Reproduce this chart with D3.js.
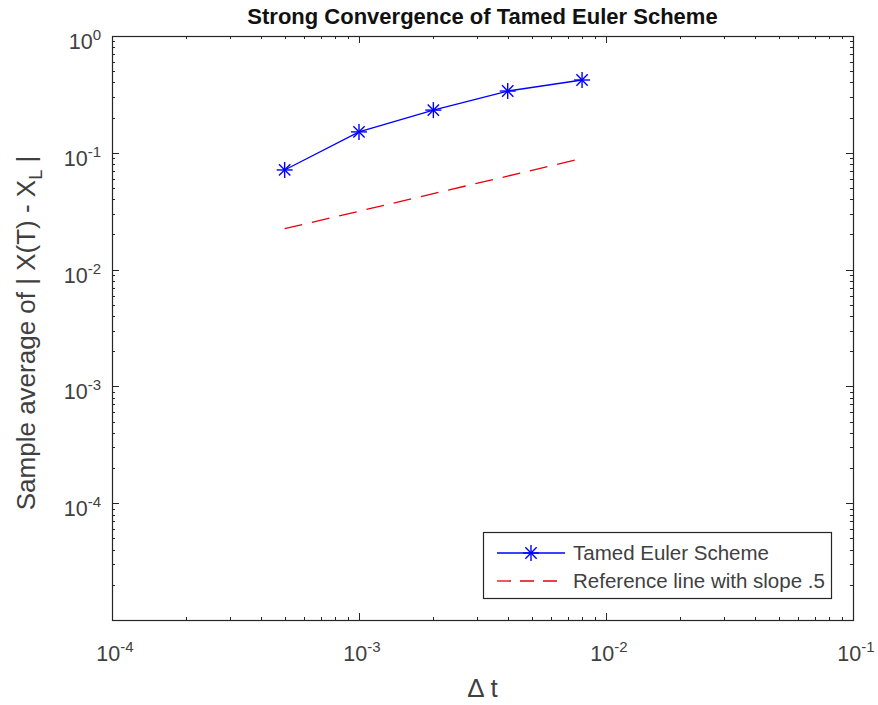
<!DOCTYPE html>
<html>
<head>
<meta charset="utf-8">
<script src="https://cdn.jsdelivr.net/npm/d3@7"></script>
<style>
  body { margin: 0; background: #fff; }
  text { font-family: "Liberation Sans", Arial, sans-serif; }
</style>
</head>
<body>
<svg id="chart" width="878" height="705"></svg>
<script>
// step sizes and measured errors
var dts = [5e-4, 1e-3, 2e-3, 4e-3, 8e-3];
var tamedErr = [0.0713, 0.151, 0.232, 0.338, 0.420];
var refErr = [0.0224, 0.0316, 0.0447, 0.0632, 0.0894];

var xDecades = [-4, -3, -2, -1];
var yDecades = [0, -1, -2, -3, -4];

var legendNames = ["Tamed Euler Scheme", "Reference line with slope .5"];

var W = 878, H = 705;
var pLeft = 112, pRight = 853, pTop = 36, pBottom = 620;

var svg = d3.select("#chart");
svg.append("rect").attr("width", W).attr("height", H).attr("fill", "#fff");

var x = d3.scaleLog().domain([1e-4, 1e-1]).range([pLeft, pRight]);
var y = d3.scaleLog().domain([1e-5, 1e0]).range([pBottom, pTop]);

var axisCol = "#262626";

// ticks (inward, on all sides)
function minorTicks(lo, hi) {
  var out = [];
  for (var e = lo; e < hi; e++)
    for (var m = 2; m <= 9; m++) out.push(m * Math.pow(10, e));
  return out;
}
var xMinor = minorTicks(-4, -1), yMinor = minorTicks(-5, 0);
var xMajor = d3.range(-4, 0).map(function (e) { return Math.pow(10, e); });
var yMajor = d3.range(-5, 1).map(function (e) { return Math.pow(10, e); });

var g = svg.append("g").attr("stroke", axisCol).attr("stroke-width", 1);
function tickX(vals, len) {
  vals.forEach(function (v) {
    var px = Math.round(x(v)) + 0.5;
    g.append("line").attr("x1", px).attr("x2", px).attr("y1", pBottom).attr("y2", pBottom - len);
    g.append("line").attr("x1", px).attr("x2", px).attr("y1", pTop).attr("y2", pTop + len);
  });
}
function tickY(vals, len) {
  vals.forEach(function (v) {
    var py = Math.round(y(v)) + 0.5;
    g.append("line").attr("y1", py).attr("y2", py).attr("x1", pLeft).attr("x2", pLeft + len);
    g.append("line").attr("y1", py).attr("y2", py).attr("x1", pRight).attr("x2", pRight - len);
  });
}
tickX(xMinor, 3); tickX(xMajor, 7);
tickY(yMinor, 3); tickY(yMajor, 7);

svg.append("rect")
  .attr("x", pLeft + 0.5).attr("y", pTop + 0.5)
  .attr("width", pRight - pLeft).attr("height", pBottom - pTop)
  .attr("fill", "none").attr("stroke", axisCol).attr("stroke-width", 1.2);

// tick labels
function powLabel(sel, e) {
  sel.append("tspan").text("10");
  sel.append("tspan").attr("dy", -9).attr("font-size", 15).text(e);
}
xDecades.forEach(function (e) {
  var t = svg.append("text")
    .attr("x", x(Math.pow(10, e)) + 3).attr("y", 661)
    .attr("text-anchor", "middle").attr("font-size", 21.5).attr("fill", "#404040");
  powLabel(t, e);
});
yDecades.forEach(function (e) {
  var t = svg.append("text")
    .attr("x", 101).attr("y", y(Math.pow(10, e)) + 13)
    .attr("text-anchor", "end").attr("font-size", 21.5).attr("fill", "#404040");
  powLabel(t, e);
});

// title and axis labels
svg.append("text").attr("x", (pLeft + pRight) / 2).attr("y", 24)
  .attr("text-anchor", "middle").attr("font-size", 22).attr("font-weight", "bold")
  .attr("fill", "#111").text("Strong Convergence of Tamed Euler Scheme");

svg.append("text").attr("x", (pLeft + pRight) / 2).attr("y", 697)
  .attr("text-anchor", "middle").attr("font-size", 26).attr("fill", "#404040")
  .text("\u0394 t");

var yl = svg.append("text")
  .attr("transform", "translate(35,333) rotate(-90)")
  .attr("text-anchor", "middle").attr("font-size", 26).attr("fill", "#404040");
yl.append("tspan").text("Sample average of | X(T) - X");
yl.append("tspan").attr("dy", 7).attr("font-size", 18).text("L");
yl.append("tspan").attr("dy", -7).text(" |");

// series
var line = d3.line().x(function (d) { return x(d[0]); }).y(function (d) { return y(d[1]); });
var tamedPts = dts.map(function (d, i) { return [d, tamedErr[i]]; });
var refPts = dts.map(function (d, i) { return [d, refErr[i]]; });

svg.append("path").datum(refPts).attr("d", line)
  .attr("fill", "none").attr("stroke", "#e8000b").attr("stroke-width", 1.3)
  .attr("stroke-dasharray", "18,10");

svg.append("path").datum(tamedPts).attr("d", line)
  .attr("fill", "none").attr("stroke", "#0000ff").attr("stroke-width", 1.3);

function star(sel, cx, cy, r) {
  var gs = sel.append("g").attr("stroke", "#0000ff").attr("stroke-width", 1.4);
  [0, 45, 90, 135].forEach(function (a) {
    var rad = a * Math.PI / 180, dx = r * Math.cos(rad), dy = r * Math.sin(rad);
    gs.append("line").attr("x1", cx - dx).attr("y1", cy - dy).attr("x2", cx + dx).attr("y2", cy + dy);
  });
}
tamedPts.forEach(function (d) { star(svg, x(d[0]), y(d[1]), 8); });

// legend
var lg = svg.append("g");
lg.append("rect").attr("x", 483.5).attr("y", 532.5).attr("width", 348).attr("height", 66)
  .attr("fill", "#fff").attr("stroke", axisCol).attr("stroke-width", 1.2);
lg.append("line").attr("x1", 497).attr("x2", 565).attr("y1", 553).attr("y2", 553)
  .attr("stroke", "#0000ff").attr("stroke-width", 1.3);
star(lg, 531, 553, 8);
lg.append("line").attr("x1", 497).attr("x2", 565).attr("y1", 581).attr("y2", 581)
  .attr("stroke", "#e8000b").attr("stroke-width", 1.3).attr("stroke-dasharray", "14,9");
legendNames.forEach(function (n, i) {
  lg.append("text").attr("x", 573).attr("y", 560 + i * 28)
    .attr("font-size", 20.5).attr("fill", "#404040").text(n);
});
</script>
</body>
</html>
